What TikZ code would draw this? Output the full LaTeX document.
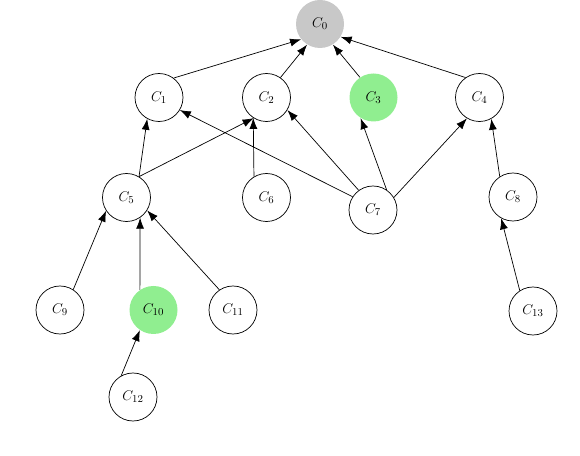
\documentclass[tikz,border=0pt]{standalone}
\usepackage{tikz}
\usetikzlibrary{positioning, arrows, arrows.meta}
\definecolor{rootgray}{RGB}{200,200,200}
\definecolor{markgreen}{RGB}{144,238,144}
\tikzset{cnode/.style={circle, minimum size=1.44cm, inner sep=0pt, draw=black, fill=white, line width=0.6pt, font=\fontsize{13}{15}\selectfont},
         rootnode/.style={cnode, draw=none, fill=rootgray},
         greennode/.style={cnode, draw=none, fill=markgreen},
         every edge/.style={draw, line width=0.6pt, -{Latex[length=0.33cm, width=0.24cm]}}}
\begin{document}
\begin{tikzpicture}[x=0.03cm, y=-0.03cm]
        \useasboundingbox (0,0) rectangle (580,456);
        \node (c0)[rootnode] at (320,24){$C_0$};
        \node (c1)[cnode] at (159,97.5){$C_1$};
        \node (c2)[cnode] at (266.5,97.5){$C_2$};
        \node (c3)[greennode] at (373.5,97.5){$C_3$};
        \node (c4)[cnode] at (479.5,97.5){$C_4$};
        \node (c5)[cnode] at (126.5,197.5){$C_5$};
        \node (c6)[cnode] at (266.5,197.5){$C_6$};
        \node (c7)[cnode] at (373,210){$C_7$};
        \node (c8)[cnode] at (513,197){$C_8$};
        \node (c9)[cnode] at (60,310){$C_9$};
        \node (c10)[greennode] at (153.5,310){$C_{10}$};
        \node (c11)[cnode] at (233,310){$C_{11}$};
        \node (c13)[cnode] at (533,311){$C_{13}$};
        \node (c12)[cnode] at (133,397){$C_{12}$};
        % top level
        \draw (c1.53) edge (c0.-141) (c2.55) edge (c0.-122) (c3.124) edge (c0.-58) (c4.125) edge (c0.-32);
        % middle level
        \draw (c5.59) edge (c1.-119) (c5.59) edge (c2.-122) (c6.121) edge (c2.-123);
        \draw (c7.147) edge (c1.-31) (c7.126) edge (c2.-31) (c7.56) edge (c3.-122) (c7.31) edge (c4.-121);
        \draw (c8.123) edge (c4.-61);
        % bottom level
        \draw (c9.57) edge (c5.-147) (c10.124) edge (c5.-56) (c11.124) edge (c5.-32);
        \draw (c12.119) edge (c10.-124) (c13.123) edge (c8.-119);
    \end{tikzpicture}
\end{document}
